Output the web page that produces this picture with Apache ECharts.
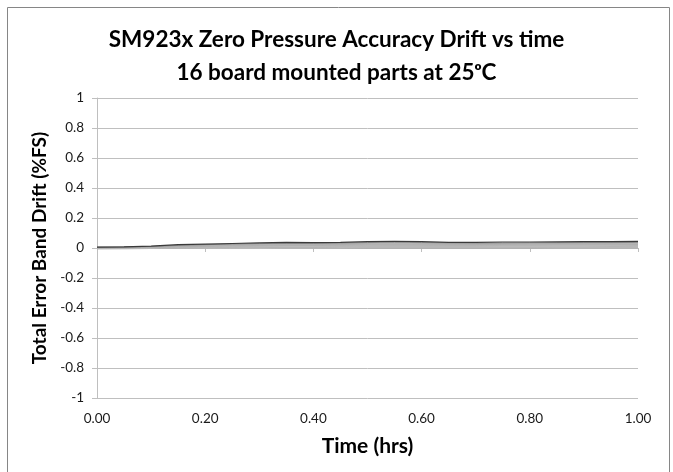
<!DOCTYPE html>
<html>
<head>
<meta charset="utf-8">
<script src="https://cdn.jsdelivr.net/npm/echarts@6/dist/echarts.min.js"></script>
<style>html,body{margin:0;padding:0;background:#fff}#c{width:673px;height:472px}</style>
</head>
<body>
<div id="c"></div>
<script>
const timeHrs = [0,0.05,0.1,0.15,0.2,0.25,0.3,0.35,0.4,0.45,0.5,0.55,0.6,0.65,0.7,0.75,0.8,0.85,0.9,0.95,1.0];
const xTicks = [0,0.2,0.4,0.6,0.8,1.0];
const yTicks = [-1,-0.8,-0.6,-0.4,-0.2,0,0.2,0.4,0.6,0.8,1];
const part01 = [0.006,0.008,0.012,0.022,0.026,0.030,0.034,0.038,0.036,0.038,0.042,0.045,0.043,0.038,0.038,0.040,0.040,0.041,0.042,0.043,0.044];
const part02 = [0.004,0.006,0.010,0.017,0.022,0.026,0.029,0.032,0.031,0.033,0.036,0.038,0.036,0.034,0.033,0.034,0.035,0.035,0.036,0.036,0.037];
const part03 = [0.003,0.005,0.008,0.014,0.019,0.022,0.025,0.028,0.027,0.029,0.031,0.033,0.031,0.029,0.029,0.030,0.030,0.031,0.031,0.032,0.032];
const part04 = [0.003,0.004,0.007,0.012,0.016,0.020,0.022,0.025,0.024,0.026,0.028,0.030,0.028,0.027,0.026,0.027,0.028,0.028,0.029,0.029,0.029];
const part05 = [0.002,0.003,0.006,0.010,0.014,0.017,0.020,0.022,0.022,0.023,0.025,0.026,0.025,0.024,0.024,0.025,0.025,0.026,0.026,0.026,0.027];
const part06 = [0.001,0.003,0.005,0.009,0.012,0.015,0.017,0.019,0.019,0.020,0.022,0.023,0.022,0.021,0.021,0.022,0.022,0.023,0.023,0.023,0.024];
const part07 = [0.001,0.002,0.004,0.008,0.011,0.013,0.015,0.017,0.017,0.018,0.019,0.021,0.020,0.019,0.019,0.020,0.020,0.021,0.021,0.021,0.022];
const part08 = [0.000,0.002,0.003,0.006,0.009,0.011,0.013,0.015,0.015,0.016,0.017,0.018,0.017,0.017,0.017,0.018,0.018,0.018,0.019,0.019,0.019];
const part09 = [0.000,0.001,0.003,0.005,0.008,0.010,0.011,0.013,0.013,0.014,0.015,0.016,0.015,0.015,0.015,0.015,0.016,0.016,0.016,0.017,0.017];
const part10 = [-0.001,0.001,0.002,0.004,0.006,0.008,0.010,0.011,0.011,0.012,0.013,0.014,0.013,0.013,0.013,0.013,0.014,0.014,0.014,0.014,0.015];
const part11 = [0.000,0.000,0.001,0.003,0.005,0.006,0.008,0.009,0.009,0.010,0.011,0.011,0.011,0.011,0.011,0.011,0.011,0.012,0.012,0.012,0.012];
const part12 = [-0.001,0.000,0.001,0.002,0.004,0.005,0.006,0.007,0.007,0.008,0.009,0.009,0.009,0.009,0.009,0.009,0.009,0.010,0.010,0.010,0.010];
const part13 = [-0.002,-0.001,0.000,0.001,0.002,0.003,0.004,0.005,0.005,0.006,0.007,0.007,0.007,0.007,0.007,0.007,0.007,0.008,0.008,0.008,0.008];
const part14 = [-0.002,-0.001,-0.001,0.000,0.001,0.002,0.003,0.003,0.003,0.004,0.005,0.005,0.005,0.005,0.005,0.005,0.005,0.006,0.006,0.006,0.006];
const part15 = [-0.003,-0.002,-0.002,-0.001,0.000,0.001,0.001,0.002,0.002,0.002,0.003,0.003,0.003,0.003,0.003,0.003,0.003,0.004,0.004,0.004,0.004];
const part16 = [-0.003,-0.003,-0.002,-0.002,-0.001,-0.001,0.000,0.000,0.000,0.001,0.001,0.001,0.001,0.001,0.001,0.001,0.001,0.002,0.002,0.002,0.002];
const parts = [part01,part02,part03,part04,part05,part06,part07,part08,part09,part10,part11,part12,part13,part14,part15,part16];
const colors = ['#3a3a3a','#8c8c8c','#b4b4b4','#a8a8a8','#bdbdbd','#acacac','#c2c2c2','#b0b0b0','#c4c4c4','#aeaeae','#bababa','#a9a9a9','#c6c6c6','#b2b2b2','#bcbcbc','#a6a6a6'];
const widths = [1.2,1,1.6,1.6,1.6,1.6,1.6,1.6,1.6,1.6,1.6,1.6,1.6,1.6,1.6,1.6];

const chart = echarts.init(document.getElementById('c'));
const font = 'Lato, "Open Sans", sans-serif';
const series = parts.map((p, i) => ({
  type: 'line',
  name: 'Part ' + (i + 1),
  xAxisIndex: 0,
  data: timeHrs.map((t, k) => [t, p[k]]),
  showSymbol: false,
  lineStyle: { width: widths[i], color: colors[i] },
  z: 20 - i,
  animation: false
}));
series.reverse();

chart.setOption({
  animation: false,
  backgroundColor: '#fff',
  title: {
    text: 'SM923x Zero Pressure Accuracy Drift vs time\n16 board mounted parts at 25\u1d52C',
    left: 'center',
    top: 18,
    textStyle: { fontFamily: font, fontWeight: 'bold', fontSize: 22.5, lineHeight: 33, color: '#000' }
  },
  graphic: [{
    type: 'rect',
    shape: { x: 7.5, y: 7.5, width: 662, height: 475 },
    style: { fill: 'none', stroke: '#868686', lineWidth: 1 },
    silent: true
  }],
  grid: { left: 97, right: 35, top: 98, bottom: 74 },
  xAxis: [{
    type: 'value', min: 0, max: 1, interval: 0.2,
    axisLine: { show: true, onZero: true, lineStyle: { color: '#bfbfbf', width: 1 } },
    axisTick: { show: true, length: 4, lineStyle: { color: '#bfbfbf' } },
    axisLabel: { show: false },
    splitLine: { show: false }
  }, {
    type: 'value', min: 0, max: 1, interval: 0.2, position: 'bottom',
    name: 'Time (hrs)', nameLocation: 'middle', nameGap: 38,
    nameTextStyle: { fontFamily: font, fontWeight: 'bold', fontSize: 21, color: '#000' },
    axisLine: { show: false }, axisTick: { show: false }, splitLine: { show: false },
    axisLabel: { margin: 14, fontFamily: font, fontSize: 13.5, color: '#1a1a1a',
      formatter: v => xTicks.some(t => Math.abs(t - v) < 1e-9) ? v.toFixed(2) : '' }
  }],
  yAxis: {
    type: 'value', min: -1, max: 1, interval: 0.2,
    name: 'Total Error Band Drift (%FS)', nameLocation: 'middle', nameGap: 45,
    nameTextStyle: { fontFamily: font, fontWeight: 'bold', fontSize: 19, color: '#000' },
    axisLine: { show: true, onZero: false, lineStyle: { color: '#bfbfbf' } },
    axisTick: { show: true, length: 5, lineStyle: { color: '#bfbfbf' } },
    axisLabel: { margin: 13, fontFamily: font, fontSize: 13.5, color: '#1a1a1a',
      formatter: v => { const t = yTicks.find(y => Math.abs(y - v) < 1e-9); return t === undefined ? '' : String(t); } },
    splitLine: { show: true, lineStyle: { color: '#bfbfbf', width: 1 } }
  },
  series: series
});
</script>
</body>
</html>
